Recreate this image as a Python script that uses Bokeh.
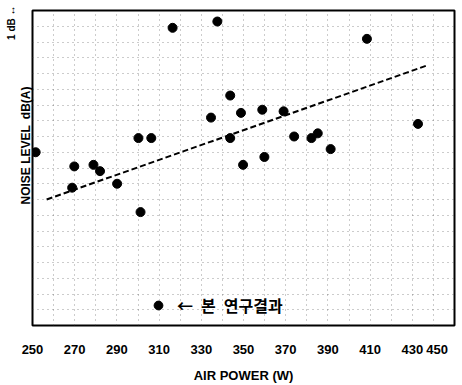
from bokeh.plotting import figure
from bokeh.models import Range1d, FixedTicker, Title, Legend, LegendItem
from bokeh.embed import file_html
from bokeh.resources import INLINE

# ---- data ----
air_power = [251.5, 269.8, 278.9, 282.0, 268.8, 290.1, 300.2, 306.3, 301.2,
             316.4, 337.6, 334.6, 343.7, 348.8, 358.9, 369.0, 343.7, 374.0, 382.2,
             385.2, 391.3, 349.8, 359.9, 408.5, 432.7]
noise_db = [11.0, 10.1, 10.2, 9.8, 8.75, 9.0, 11.9, 11.9, 7.2,
            18.9, 19.3, 13.2, 14.6, 13.5, 13.7, 13.6, 11.9, 12.0, 11.9, 12.2, 11.2,
            10.2, 10.7, 18.2, 12.8]
trend_x = [256.7, 436.8]
trend_y = [8.0, 16.5]
x_ticks = [250, 270, 290, 310, 330, 350, 370, 390, 410, 430, 450]
x_grid = [260, 270, 280, 290, 300, 310, 320, 330, 340, 350, 360, 370,
          380, 390, 400, 410, 420, 430, 440]
y_grid = list(range(1, 20))
legend_label = "←\u2002본\u2002연구결과"
y_title = "NOISE LEVEL\u2002dB(A)"
scale_text = "1 dB \u2194"

FONT = "Liberation Sans"

p = figure(width=462, height=385, output_backend="svg", toolbar_location=None,
           x_range=Range1d(250, 450), y_range=Range1d(0, 20),
           min_border_left=32, min_border_right=8, min_border_top=10,
           min_border_bottom=54)
p.background_fill_color = "white"
p.border_fill_color = "white"
p.outline_line_color = "black"
p.outline_line_width = 2

# axes
p.yaxis.visible = False
xa = p.xaxis[0]
xa.ticker = FixedTicker(ticks=x_ticks)
xa.major_label_overrides = {450: "450\u2007\u2007"}
xa.axis_line_color = None
xa.major_tick_line_color = None
xa.minor_tick_line_color = None
xa.major_label_standoff = 10
xa.major_label_text_font = FONT
xa.major_label_text_font_style = "bold"
xa.major_label_text_font_size = "13px"
xa.major_label_text_color = "black"
xa.axis_label = "AIR POWER (W)"
xa.axis_label_text_font = FONT
xa.axis_label_text_font_style = "bold"
xa.axis_label_text_font_size = "13px"
xa.axis_label_text_color = "black"
xa.axis_label_standoff = 8

# left-side texts (y title and the "1 dB" scale note with its double arrow)
t1 = Title(text=y_title, align="right", offset=76, standoff=0,
           text_font=FONT, text_font_style="bold", text_font_size="12px",
           text_color="black")
t2 = Title(text=scale_text, align="right", offset=-5, standoff=0,
           text_font=FONT, text_font_style="bold", text_font_size="10px",
           text_color="black")
p.add_layout(t1, "left")
p.add_layout(t2, "left")

# dotted grid
p.xgrid.ticker = FixedTicker(ticks=x_grid)
p.ygrid.ticker = FixedTicker(ticks=y_grid)
for g in (p.xgrid, p.ygrid):
    g.grid_line_color = "#555555"
    g.grid_line_dash = "1 4"
    g.grid_line_width = 1
    g.grid_line_alpha = 0.6

# trend line
p.line(trend_x, trend_y, line_color="black", line_width=2, line_dash="6 3")

# points
r = p.scatter(air_power, noise_db, size=9, marker="circle",
              fill_color="black", line_color="black")

legend = Legend(items=[LegendItem(label=legend_label, renderers=[r])],
                location=(115, 8), orientation="vertical",
                padding=0, margin=0, spacing=0,
                glyph_width=22, glyph_height=22, label_height=22,
                label_standoff=8,
                border_line_color=None, background_fill_alpha=0,
                label_text_font="Noto Sans CJK KR",
                label_text_font_style="bold",
                label_text_font_size="16px",
                label_text_color="black")
p.add_layout(legend, "center")

open("out.html", "w").write(file_html(p, INLINE))
